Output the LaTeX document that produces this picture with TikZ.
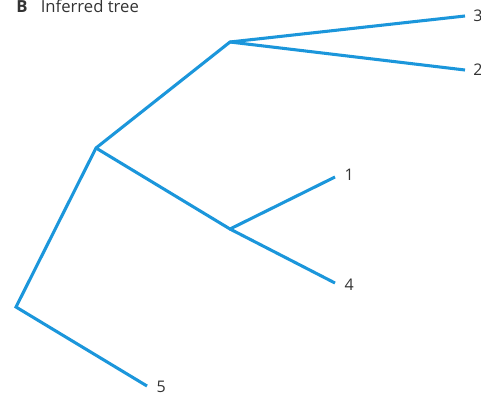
\documentclass[tikz,border=0pt]{standalone}
\usepackage{fontspec}
\setmainfont{Open Sans}
\usepackage{xcolor}
\usepackage{tikz}

\definecolor{treeblue}{RGB}{27,150,219}
\tikzset{
  branch/.style={treeblue, line width=2.3pt, line join=miter},
  leaflabel/.style={anchor=west, inner sep=0pt, font=\fontsize{12}{14}\selectfont, text=black!80},
}

\begin{document}
\begin{tikzpicture}[x=0.75pt, y=-0.75pt]
  \useasboundingbox (0,0) rectangle (481,397);
  % title
  \node[anchor=base west, inner sep=0pt, font=\fontsize{12.5}{14}\selectfont, text=black!80] (title) at (16,12) {\textbf{B}\hspace{0.8em}Inferred tree};
  % inner nodes
  \coordinate (root) at (16,307);
  \coordinate (n1) at (96,148);
  \coordinate (n2) at (230,42);
  \coordinate (n3) at (230,229);
  % leaf ends
  \coordinate (e3) at (465,16);
  \coordinate (e2) at (465,70);
  \coordinate (e1) at (335,177);
  \coordinate (e4) at (335,283);
  \coordinate (e5) at (147,386);
  % branches
  \draw[branch] (e5) -- (root) -- (n1) -- (n2) -- (e3);
  \draw[branch] (n2) -- (e2);
  \draw[branch] (n1) -- (n3) -- (e1);
  \draw[branch] (n3) -- (e4);
  % leaf labels
  \node[leaflabel] (l3) at ([xshift=6pt]e3) {3};
  \node[leaflabel] (l2) at ([xshift=6pt]e2) {2};
  \node[leaflabel] (l1) at ([xshift=7pt,yshift=2pt]e1) {1};
  \node[leaflabel] (l4) at ([xshift=7pt,yshift=-1pt]e4) {4};
  \node[leaflabel] (l5) at ([xshift=7pt,yshift=-1pt]e5) {5};
\end{tikzpicture}
\end{document}
